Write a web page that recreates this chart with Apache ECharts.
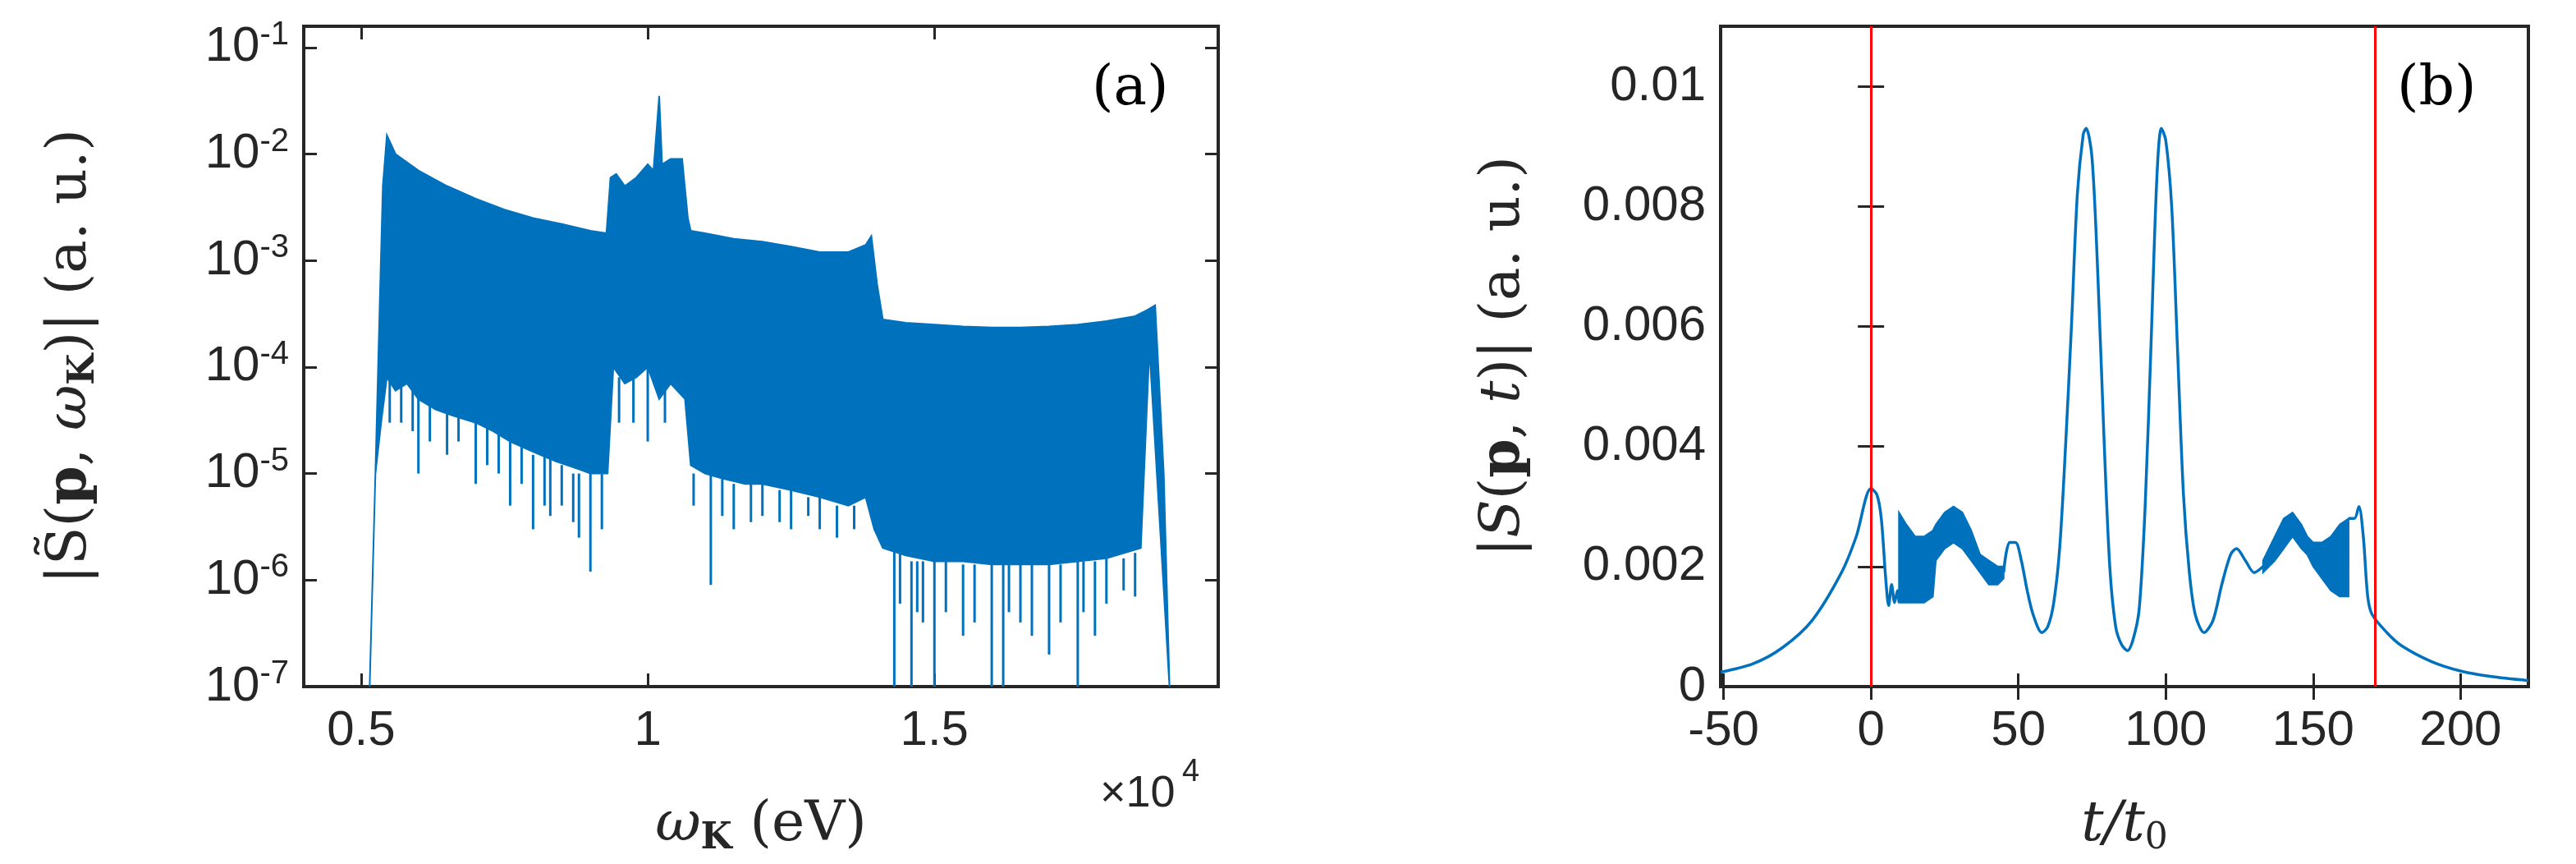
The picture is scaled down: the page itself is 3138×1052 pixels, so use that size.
<!DOCTYPE html>
<html>
<head>
<meta charset="utf-8">
<script src="https://cdn.jsdelivr.net/npm/echarts@6/dist/echarts.min.js"></script>
<style>
  html, body { margin: 0; padding: 0; background: #fff; }
  #main { width: 3138px; height: 1052px; }
</style>
</head>
<body>
<div id="main"></div>
<script>
// ---- panel (a): spectrum, x in units of 1e4 eV ----
var aUpperX = [0.515, 0.525, 0.532, 0.538, 0.545, 0.56, 0.6, 0.65, 0.7, 0.75, 0.8, 0.85, 0.9, 0.928, 0.935, 0.945, 0.96, 0.98, 1.0, 1.01, 1.02, 1.025, 1.04, 1.06, 1.07, 1.075, 1.1, 1.15, 1.2, 1.25, 1.3, 1.35, 1.38, 1.39, 1.4, 1.41, 1.45, 1.5, 1.55, 1.6, 1.65, 1.7, 1.75, 1.8, 1.85, 1.87, 1.885, 1.9, 1.91];
var aUpperY = [1e-7, 1e-5, 3e-4, 5e-3, 1.5e-2, 1e-2, 7e-3, 5e-3, 3.8e-3, 3e-3, 2.5e-3, 2.2e-3, 1.9e-3, 1.8e-3, 6e-3, 6.5e-3, 5e-3, 6e-3, 8e-3, 7e-3, 3.5e-2, 8e-3, 9e-3, 9e-3, 2.5e-3, 1.9e-3, 1.8e-3, 1.6e-3, 1.5e-3, 1.35e-3, 1.2e-3, 1.2e-3, 1.4e-3, 1.7e-3, 6e-4, 2.8e-4, 2.6e-4, 2.5e-4, 2.4e-4, 2.35e-4, 2.35e-4, 2.4e-4, 2.5e-4, 2.7e-4, 3e-4, 3.4e-4, 3.8e-4, 1e-5, 1e-7];
var aLowerX = [0.525, 0.535, 0.545, 0.56, 0.58, 0.6, 0.63, 0.66, 0.7, 0.73, 0.76, 0.8, 0.84, 0.88, 0.9, 0.93, 0.94, 0.96, 0.98, 1.0, 1.02, 1.04, 1.065, 1.075, 1.1, 1.13, 1.17, 1.2, 1.25, 1.3, 1.35, 1.38, 1.395, 1.41, 1.45, 1.5, 1.55, 1.6, 1.65, 1.7, 1.75, 1.8, 1.86, 1.875];
var aLowerY = [1e-5, 3e-5, 8e-5, 6e-5, 7e-5, 5e-5, 4e-5, 3.5e-5, 3e-5, 2.5e-5, 2e-5, 1.6e-5, 1.3e-5, 1.1e-5, 1e-5, 1e-5, 1e-4, 7e-5, 8e-5, 1e-4, 5e-5, 7e-5, 5e-5, 1.2e-5, 1e-5, 9e-6, 8e-6, 8e-6, 7e-6, 6e-6, 5e-6, 6e-6, 3e-6, 2e-6, 1.7e-6, 1.5e-6, 1.5e-6, 1.4e-6, 1.4e-6, 1.4e-6, 1.5e-6, 1.6e-6, 2e-6, 1.5e-4];
// downward spikes: [x, from, to]
var aSpikes = [[0.55, 1e-4, 3e-5], [0.57, 7e-5, 3e-5], [0.59, 6e-5, 2.5e-5], [0.6, 6e-5, 1e-5], [0.62, 5e-5, 2e-5], [0.65, 4e-5, 1.5e-5], [0.67, 4e-5, 2e-5], [0.7, 3e-5, 8e-6], [0.72, 3e-5, 1.2e-5], [0.74, 3e-5, 1e-5], [0.76, 2e-5, 5e-6], [0.78, 2e-5, 8e-6], [0.8, 1.5e-5, 3e-6], [0.82, 1.5e-5, 5e-6], [0.83, 1.5e-5, 4e-6], [0.85, 1.2e-5, 5e-6], [0.87, 1e-5, 3.5e-6], [0.88, 1e-5, 2.5e-6], [0.9, 1e-5, 1.2e-6], [0.92, 1e-5, 3e-6], [0.95, 8e-5, 3e-5], [0.975, 1e-4, 3e-5], [1.0, 1e-4, 2e-5], [1.03, 7e-5, 3e-5], [1.08, 1e-5, 5e-6], [1.11, 1e-5, 9e-7], [1.13, 9e-6, 4e-6], [1.15, 8e-6, 3e-6], [1.18, 8e-6, 3.5e-6], [1.2, 8e-6, 4e-6], [1.23, 7e-6, 3.5e-6], [1.25, 7e-6, 3e-6], [1.28, 6e-6, 4e-6], [1.3, 6e-6, 3e-6], [1.33, 5e-6, 2.5e-6], [1.36, 5e-6, 3e-6], [1.43, 2e-6, 1e-7], [1.44, 2e-6, 6e-7], [1.46, 1.5e-6, 1e-7], [1.47, 1.5e-6, 5e-7], [1.48, 1.5e-6, 4e-7], [1.5, 1.5e-6, 1e-7], [1.52, 1.5e-6, 5e-7], [1.55, 1.4e-6, 3e-7], [1.57, 1.4e-6, 4e-7], [1.6, 1.4e-6, 1e-7], [1.62, 1.4e-6, 1e-7], [1.63, 1.4e-6, 5e-7], [1.65, 1.4e-6, 4e-7], [1.67, 1.4e-6, 3e-7], [1.7, 1.4e-6, 2e-7], [1.72, 1.4e-6, 4e-7], [1.75, 1.5e-6, 1e-7], [1.76, 1.5e-6, 5e-7], [1.78, 1.5e-6, 3e-7], [1.8, 1.6e-6, 6e-7], [1.83, 1.6e-6, 8e-7], [1.85, 1.8e-6, 7e-7]];
var aXTicks = [0.5, 1, 1.5];
var aYTicks = [1e-7, 1e-6, 1e-5, 1e-4, 1e-3, 1e-2, 1e-1];

// ---- panel (b): |S(p,t)| vs t/t0 ----
var bCurve = [[-51, 0.00024], [-40, 0.00038], [-30, 0.00065], [-20, 0.0011], [-10, 0.0019], [-5, 0.0025], [0, 0.0033], [2, 0.0032], [3.5, 0.0028], [5, 0.0018], [6, 0.00135], [7, 0.0017], [8, 0.0014], [9, 0.0016], [9.5, 0.0014]];
var bCurveMid = [[45, 0.0019], [47, 0.0024], [49, 0.0024], [51, 0.0021], [53, 0.0016], [55, 0.0012], [58, 0.0009], [60, 0.001], [62, 0.0014], [64, 0.0023], [66, 0.0040], [68, 0.0060], [70, 0.0082], [72, 0.0092], [73, 0.0093], [75, 0.0088], [77, 0.0068], [79, 0.0042], [81, 0.0020], [83, 0.0010], [85, 0.0007], [87, 0.0006], [89, 0.0008], [91, 0.0013], [93, 0.0030], [95, 0.0057], [97, 0.0085], [98.5, 0.0093], [100, 0.0091], [102, 0.0080], [104, 0.0056], [106, 0.0032], [108, 0.0019], [110, 0.0012], [113, 0.0009], [116, 0.0011], [119, 0.0017], [122, 0.0022], [124, 0.0023], [127, 0.0021], [130, 0.0019], [133, 0.0020]];
var bCurveEnd = [[162, 0.0028], [164, 0.0028], [165.5, 0.0030], [167, 0.0025], [168.5, 0.0015], [170, 0.0012], [175, 0.0009], [180, 0.00068], [190, 0.00042], [200, 0.00026], [210, 0.00017], [223, 0.0001]];
var bBandX = [9.5, 12, 15, 18, 21, 22, 25, 28, 31, 34, 37, 40, 43, 45];
var bBandUp = [0.0029, 0.0027, 0.0025, 0.0025, 0.0026, 0.0027, 0.0029, 0.0030, 0.0029, 0.0026, 0.0022, 0.0021, 0.0020, 0.0020];
var bBandLo = [0.0014, 0.0014, 0.0014, 0.0014, 0.0015, 0.0021, 0.0023, 0.0024, 0.0023, 0.0021, 0.0019, 0.0017, 0.0017, 0.0018];
var bBand2X = [133, 137, 140, 143, 146, 148, 150, 153, 156, 159, 162];
var bBand2Up = [0.0021, 0.0025, 0.0028, 0.0029, 0.0027, 0.0025, 0.0024, 0.0024, 0.0025, 0.0027, 0.0028];
var bBand2Lo = [0.0019, 0.0021, 0.0023, 0.0025, 0.0023, 0.0022, 0.0020, 0.0018, 0.0016, 0.0015, 0.0015];
var bRedLines = [0, 171];
var bXTicks = [-50, 0, 50, 100, 150, 200];
var bYTicks = [0, 0.002, 0.004, 0.006, 0.008, 0.01];

var BLUE = '#0072BD';
var INK = '#262626';
var chart = echarts.init(document.getElementById('main'));

function polygonItem(xu, yu, xl, yl, color) {
  return function (params, api) {
    var pts = [];
    for (var i = 0; i < xu.length; i++) pts.push(api.coord([xu[i], yu[i]]));
    for (var j = xl.length - 1; j >= 0; j--) pts.push(api.coord([xl[j], yl[j]]));
    return { type: 'polygon', shape: { points: pts }, style: { fill: color, stroke: color, lineWidth: 2 } };
  };
}

var tickFont = { fontFamily: 'Liberation Sans', fontSize: 60, color: INK };
function supLabel(v) {
  return '{b|10}{s|' + Math.round(Math.log10(v)) + '}';
}
function tick(vals) {
  return { inside: true, length: 16, customValues: vals, lineStyle: { color: INK, width: 3 } };
}
// mirrored tick-only axes (top / right)
function mirrorX(grid, min, max, vals) {
  return { gridIndex: grid, type: 'value', position: 'top', min: min, max: max,
    axisLine: { show: false }, splitLine: { show: false }, axisLabel: { show: false }, axisTick: tick(vals) };
}
function mirrorY(grid, type, min, max, vals) {
  return { gridIndex: grid, type: type, position: 'right', min: min, max: max,
    axisLine: { show: false }, splitLine: { show: false }, axisLabel: { show: false }, axisTick: tick(vals) };
}
var nameRich = {
  n: { fontFamily: 'DejaVu Serif', fontSize: 68, color: INK },
  p: { fontFamily: 'DejaVu Serif', fontWeight: 'bold', fontSize: 68, color: INK },
  i: { fontFamily: 'DejaVu Serif', fontStyle: 'italic', fontSize: 68, color: INK },
  k: { fontFamily: 'DejaVu Serif', fontWeight: 'bold', fontSize: 44, color: INK, padding: [34, 0, 0, 0] },
  z: { fontFamily: 'DejaVu Serif', fontSize: 44, color: INK, padding: [34, 0, 0, 0] }
};

var option = {
  animation: false,
  backgroundColor: '#fff',
  grid: [
    { left: 370, width: 1114, top: 32, height: 804, show: true, borderColor: INK, borderWidth: 4 },
    { left: 2096, width: 984, top: 32, height: 804, show: true, borderColor: INK, borderWidth: 4 }
  ],
  xAxis: [
    {
      gridIndex: 0, type: 'value', min: 0.4, max: 1.995,
      axisLine: { show: false }, splitLine: { show: false }, axisTick: tick(aXTicks),
      axisLabel: { customValues: aXTicks, margin: 24, formatter: function (v) { return String(v); }, ...tickFont },
      name: '{i|ω}{k|K}{n| (eV)}', nameLocation: 'middle', nameGap: 130, nameTextStyle: { rich: nameRich }
    },
    {
      gridIndex: 1, type: 'value', min: -51, max: 223,
      axisLine: { show: false }, splitLine: { show: false }, axisTick: tick(bXTicks),
      axisLabel: { customValues: bXTicks, margin: 24, ...tickFont },
      name: '{i|t/t}{z|0}', nameLocation: 'middle', nameGap: 130, nameTextStyle: { rich: nameRich }
    },
    mirrorX(0, 0.4, 1.995, aXTicks),
    mirrorX(1, -51, 223, bXTicks)
  ],
  yAxis: [
    {
      gridIndex: 0, type: 'log', min: 1e-7, max: 0.158,
      axisLine: { show: false }, splitLine: { show: false }, minorTick: { show: false }, axisTick: tick(aYTicks),
      axisLabel: { customValues: aYTicks, margin: 18, formatter: supLabel, rich: {
        b: { fontFamily: 'Liberation Sans', fontSize: 60, color: INK },
        s: { fontFamily: 'Liberation Sans', fontSize: 40, color: INK, padding: [0, 0, 30, 0] } } },
      name: '{n||S̃(}{p|p}{n|, }{i|ω}{k|K}{n|)| (a. u.)}', nameLocation: 'middle', nameGap: 245, nameTextStyle: { rich: nameRich }
    },
    {
      gridIndex: 1, type: 'value', min: 0, max: 0.011,
      axisLine: { show: false }, splitLine: { show: false }, axisTick: tick(bYTicks),
      axisLabel: { customValues: bYTicks, margin: 18, formatter: function (v) { return v === 0 ? '0' : String(+v.toFixed(3)); }, ...tickFont },
      name: '{n||}{i|S}{n|(}{p|p}{n|, }{i|t}{n|)| (a. u.)}', nameLocation: 'middle', nameGap: 230, nameTextStyle: { rich: nameRich }
    },
    mirrorY(0, 'log', 1e-7, 0.158, aYTicks),
    mirrorY(1, 'value', 0, 0.011, bYTicks)
  ],
  series: [
    { type: 'custom', xAxisIndex: 0, yAxisIndex: 0, clip: true, data: [[1, 1e-3]],
      renderItem: polygonItem(aUpperX, aUpperY, aLowerX, aLowerY, BLUE) },
    { type: 'custom', xAxisIndex: 0, yAxisIndex: 0, clip: true, data: aSpikes,
      renderItem: function (params, api) {
        var p1 = api.coord([api.value(0), api.value(1)]);
        var p2 = api.coord([api.value(0), api.value(2)]);
        return { type: 'line', shape: { x1: p1[0], y1: p1[1], x2: p2[0], y2: p2[1] }, style: { stroke: BLUE, lineWidth: 3 } };
      } },
    { type: 'custom', xAxisIndex: 1, yAxisIndex: 1, clip: true, data: [[0, 0]],
      renderItem: polygonItem(bBandX, bBandUp, bBandX, bBandLo, BLUE) },
    { type: 'custom', xAxisIndex: 1, yAxisIndex: 1, clip: true, data: [[0, 0]],
      renderItem: polygonItem(bBand2X, bBand2Up, bBand2X, bBand2Lo, BLUE) },
    { type: 'line', xAxisIndex: 1, yAxisIndex: 1, data: bCurve, showSymbol: false, smooth: 0.3,
      lineStyle: { color: BLUE, width: 3.5 }, z: 3,
      markLine: { symbol: 'none', silent: true, label: { show: false }, lineStyle: { color: '#FF0000', width: 3, type: 'solid' },
        data: bRedLines.map(function (x) { return { xAxis: x }; }) } },
    { type: 'line', xAxisIndex: 1, yAxisIndex: 1, data: bCurveMid, showSymbol: false, smooth: 0.3,
      lineStyle: { color: BLUE, width: 3.5 }, z: 3 },
    { type: 'line', xAxisIndex: 1, yAxisIndex: 1, data: bCurveEnd, showSymbol: false, smooth: 0.3,
      lineStyle: { color: BLUE, width: 3.5 }, z: 3 }
  ],
  graphic: [
    { type: 'text', left: 1330, top: 75, style: { text: '(a)', font: '68px "DejaVu Serif"', fill: '#000' } },
    { type: 'text', left: 2920, top: 75, style: { text: '(b)', font: '68px "DejaVu Serif"', fill: '#000' } },
    { type: 'text', left: 1340, top: 940, style: { text: '×10', font: '54px "Liberation Sans"', fill: INK } },
    { type: 'text', left: 1440, top: 922, style: { text: '4', font: '38px "Liberation Sans"', fill: INK } }
  ]
};
chart.setOption(option);
</script>
</body>
</html>
